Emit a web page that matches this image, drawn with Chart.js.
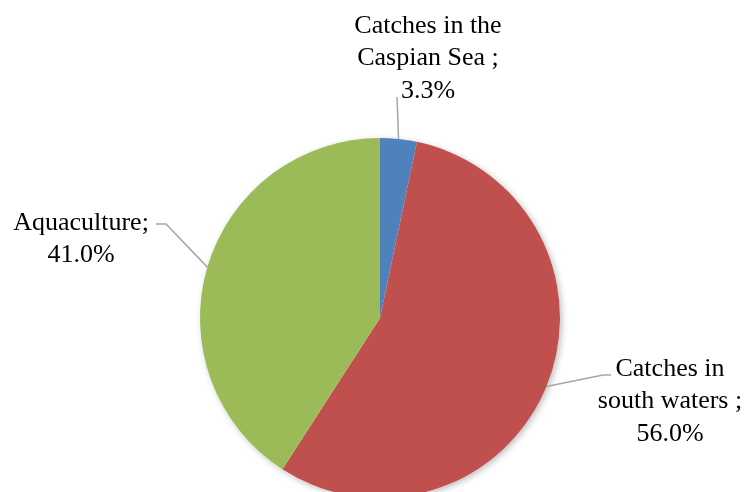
<!DOCTYPE html>
<html><head><meta charset="utf-8">
<script src="https://cdn.jsdelivr.net/npm/chart.js@4.4.0/dist/chart.umd.min.js"></script>
<style>
html,body{margin:0;padding:0;background:#fff;overflow:hidden;}
#wrap{position:relative;width:747px;height:520px;}
</style></head>
<body><div id="wrap"><canvas id="c"></canvas></div>
<script>
const categories = ["Catches in the Caspian Sea", "Catches in south waters", "Aquaculture"];
const shares = [3.3, 56.0, 41.0];
const labelLines = [
  ["Catches in the", "Caspian Sea ;", "3.3%"],
  ["Catches in", "south waters ;", "56.0%"],
  ["Aquaculture;", "41.0%"]
];
const colors = ["#4F81BD", "#C0504D", "#9BBB59"];

const FONT = '26px "Liberation Serif", "Times New Roman", serif';
const LH = 32.5;
// label layout: text center x, first line middle y, leader polyline points
const layout = [
  {tx: 428, ty: 26, pts: [[397, 97]]},
  {tx: 670, ty: 369, pts: [[603, 375], [611, 375]]},
  {tx: 81, ty: 223, pts: [[166, 224], [156, 224]]}
];

const labelPlugin = {
  id: 'labels',
  beforeDatasetsDraw(chart) {
    const meta = chart.getDatasetMeta(0);
    const ctx = chart.ctx;
    ctx.save();
    ctx.shadowColor = 'rgba(0,0,0,0.25)';
    ctx.shadowBlur = 6;
    ctx.shadowOffsetX = 2;
    ctx.shadowOffsetY = 2;
    const a = meta.data[0];
    ctx.beginPath();
    ctx.arc(a.x, a.y, a.outerRadius, 0, Math.PI*2);
    ctx.fillStyle = '#fff';
    ctx.fill();
    ctx.restore();
  },
  afterDatasetsDraw(chart) {
    const meta = chart.getDatasetMeta(0);
    const ctx = chart.ctx;
    ctx.save();
    meta.data.forEach((arc, i) => {
      const mid = (arc.startAngle + arc.endAngle) / 2;
      const sx = arc.x + Math.cos(mid) * arc.outerRadius;
      const sy = arc.y + Math.sin(mid) * arc.outerRadius;
      const L = layout[i];
      ctx.strokeStyle = '#A6A6A6';
      ctx.lineWidth = 1.5;
      ctx.beginPath();
      ctx.moveTo(sx, sy);
      L.pts.forEach(p => ctx.lineTo(p[0], p[1]));
      ctx.stroke();
      ctx.fillStyle = '#000';
      ctx.font = FONT;
      ctx.textAlign = 'center';
      ctx.textBaseline = 'middle';
      labelLines[i].forEach((t, k) => ctx.fillText(t, L.tx, L.ty + k * LH));
    });
    ctx.restore();
  }
};

new Chart(document.getElementById('c'), {
  type: 'pie',
  data: {
    labels: categories,
    datasets: [{
      data: shares,
      backgroundColor: colors,
      borderWidth: 0
    }]
  },
  options: {
    responsive: true,
    maintainAspectRatio: false,
    animation: false,
    layout: {padding: {left: 200, right: 187, top: 138, bottom: 22}},
    plugins: {legend: {display: false}, tooltip: {enabled: false}}
  },
  plugins: [labelPlugin]
});
</script></body></html>
